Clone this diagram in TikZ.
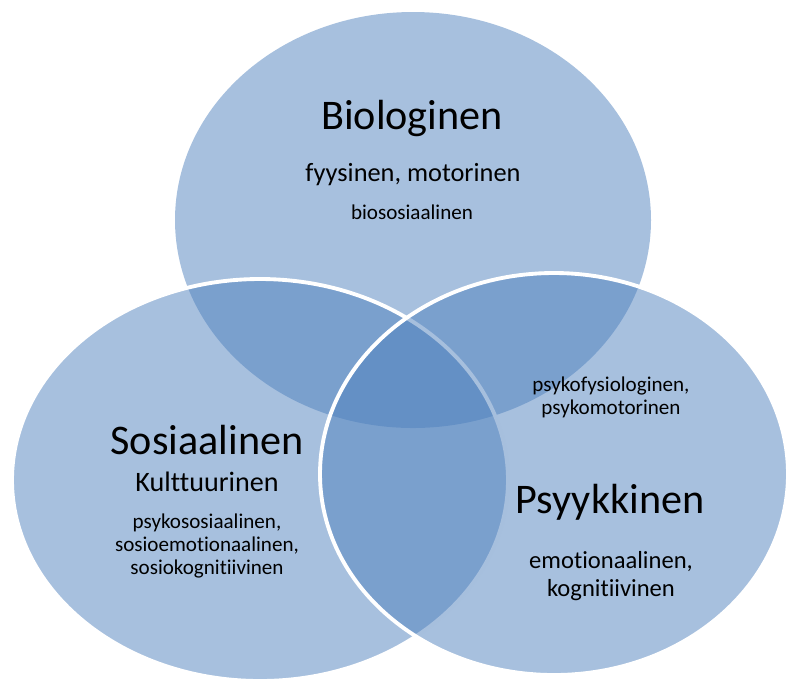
\documentclass[tikz,border=0pt]{standalone}
\usepackage{xcolor}
\usepackage{fontspec}
\setmainfont{Carlito}[RawFeature={-liga}]
\usepackage{tikz}

\begin{document}
\begin{tikzpicture}[x=0.02cm, y=-0.02cm]
  \definecolor{vennblue}{HTML}{4F81BD}
  \tikzset{
    area/.style={fill=vennblue, fill opacity=0.5},
    rim/.style={area, draw=white, line width=2.2pt},
    big/.style={font=\fontsize{24}{28}\selectfont},
    mid/.style={font=\fontsize{15}{18}\selectfont, align=center},
    small/.style={font=\fontsize{12}{13}\selectfont, align=center}
  }
  \useasboundingbox (0,0) rectangle (787,681);

  % the three circles
  \path[area] (413,220) ellipse [x radius=238, y radius=208];
  \path[rim] (260,480) ellipse [x radius=248, y radius=201];
  \path[rim] (554,474) ellipse [x radius=234, y radius=201];

  \node[big] (bio) at (412,118) {Biologinen};
  \node[mid] (bio-sub) at (413,175) {fyysinen, motorinen};
  \node[small] (bio-soc) at (412,212) {biososiaalinen};

  \node[big] (soc) at (207,440) {Sosiaalinen};
  \node[font=\fontsize{16}{19}\selectfont] (soc-cult) at (207,482) {Kulttuurinen};
  \node[small] (soc-sub) at (207,546) {psykososiaalinen,\\sosioemotionaalinen,\\sosiokognitiivinen};

  \node[small] (bio-psy) at (611,397) {psykofysiologinen,\\psykomotorinen};

  \node[big] (psy) at (610,502) {Psyykkinen};
  \node[mid, font=\fontsize{14}{16}\selectfont] (psy-sub) at (611,576) {emotionaalinen,\\kognitiivinen};
\end{tikzpicture}
\end{document}
